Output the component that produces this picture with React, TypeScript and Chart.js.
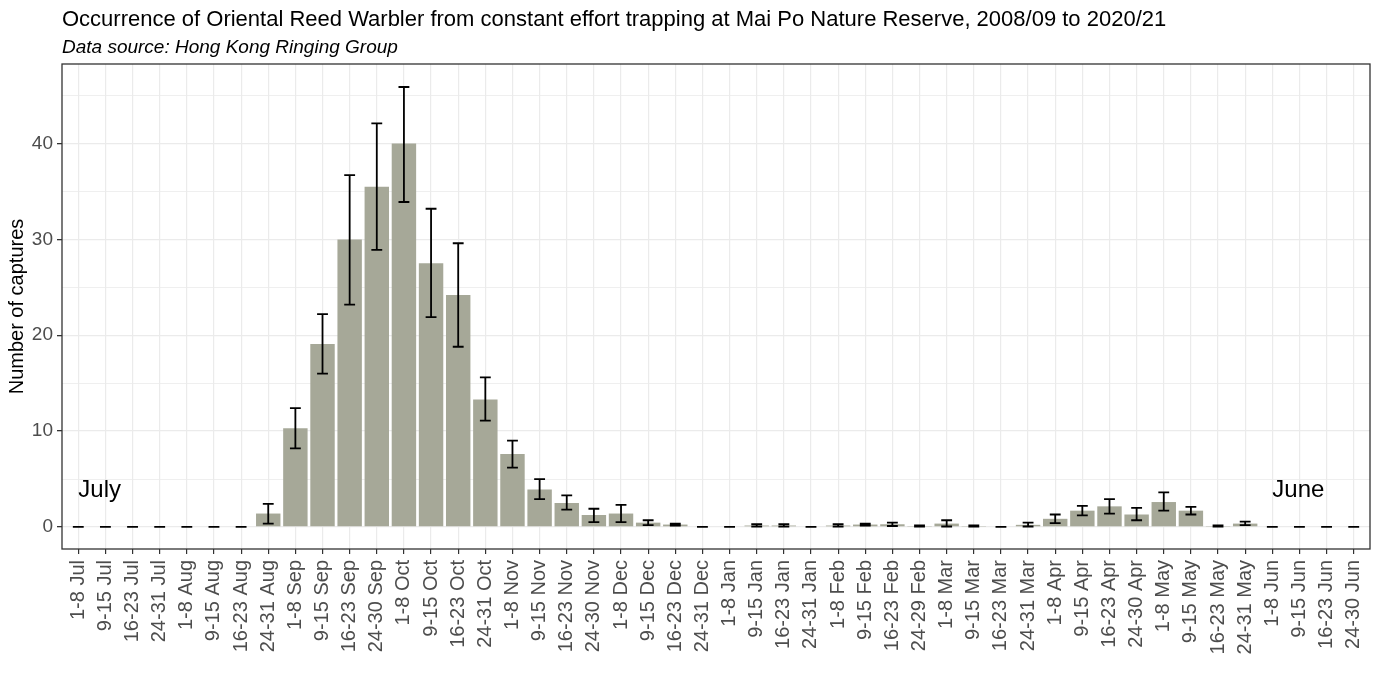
import React, { useEffect, useRef } from "react";
import { Chart, registerables } from "chart.js";

Chart.register(...registerables);

const categories = [
  "1-8 Jul", "9-15 Jul", "16-23 Jul", "24-31 Jul",
  "1-8 Aug", "9-15 Aug", "16-23 Aug", "24-31 Aug",
  "1-8 Sep", "9-15 Sep", "16-23 Sep", "24-30 Sep",
  "1-8 Oct", "9-15 Oct", "16-23 Oct", "24-31 Oct",
  "1-8 Nov", "9-15 Nov", "16-23 Nov", "24-30 Nov",
  "1-8 Dec", "9-15 Dec", "16-23 Dec", "24-31 Dec",
  "1-8 Jan", "9-15 Jan", "16-23 Jan", "24-31 Jan",
  "1-8 Feb", "9-15 Feb", "16-23 Feb", "24-29 Feb",
  "1-8 Mar", "9-15 Mar", "16-23 Mar", "24-31 Mar",
  "1-8 Apr", "9-15 Apr", "16-23 Apr", "24-30 Apr",
  "1-8 May", "9-15 May", "16-23 May", "24-31 May",
  "1-8 Jun", "9-15 Jun", "16-23 Jun", "24-30 Jun",
];

const meanCaptures = [
  0, 0, 0, 0, 0, 0, 0, 1.4,
  10.3, 19.1, 30.0, 35.5, 40.0, 27.5, 24.2, 13.3,
  7.6, 3.9, 2.5, 1.25, 1.4, 0.45, 0.25, 0,
  0, 0.15, 0.15, 0, 0.15, 0.25, 0.28, 0.1,
  0.35, 0.1, 0, 0.22, 0.85, 1.7, 2.15, 1.3,
  2.6, 1.7, 0.1, 0.35, 0, 0, 0, 0,
];

const lowerCaptures = [
  0, 0, 0, 0, 0, 0, 0, 0.35,
  8.2, 16.0, 23.2, 28.9, 33.9, 21.9, 18.8, 11.1,
  6.2, 2.9, 1.8, 0.5, 0.5, 0.2, 0.15, 0,
  0, 0.05, 0.05, 0, 0.05, 0.15, 0.1, 0.05,
  0.05, 0.05, 0, 0.05, 0.4, 1.2, 1.4, 0.7,
  1.7, 1.3, 0.05, 0.2, 0, 0, 0, 0,
];

const upperCaptures = [
  0, 0, 0, 0, 0, 0, 0, 2.4,
  12.4, 22.2, 36.7, 42.1, 45.9, 33.2, 29.6, 15.6,
  9.0, 5.0, 3.3, 1.9, 2.3, 0.7, 0.35, 0,
  0, 0.3, 0.3, 0, 0.3, 0.35, 0.45, 0.15,
  0.7, 0.15, 0, 0.45, 1.3, 2.2, 2.9, 2.0,
  3.6, 2.1, 0.15, 0.55, 0, 0, 0, 0,
];

const yTicks = [0, 5, 10, 15, 20, 25, 30, 35, 40, 45];

const annotationTexts = ["July", "June"];
const annotationX = [0, 44];
const annotationY = [3.8, 3.8];

const titleText =
  "Occurrence of Oriental Reed Warbler from constant effort trapping at Mai Po Nature Reserve, 2008/09 to 2020/21";
const subtitleText = "Data source: Hong Kong Ringing Group";

const FONT = "'Liberation Sans', Arial, sans-serif";

const overlayPlugin = {
  id: "overlay",
  beforeDraw(chart: any) {
    const { ctx, width, height } = chart;
    ctx.save();
    ctx.fillStyle = "#ffffff";
    ctx.fillRect(0, 0, width, height);
    ctx.restore();
  },
  afterDatasetsDraw(chart: any) {
    const { ctx, chartArea, scales } = chart;
    const xs = scales.x;
    const ys = scales.y;
    const step = Math.abs(xs.getPixelForValue(1) - xs.getPixelForValue(0));
    const half = step * 0.2;
    ctx.save();
    ctx.strokeStyle = "#000000";
    ctx.lineWidth = 1.8;
    for (let i = 0; i < categories.length; i++) {
      const x = xs.getPixelForValue(i);
      const yl = ys.getPixelForValue(lowerCaptures[i]);
      const yu = ys.getPixelForValue(upperCaptures[i]);
      ctx.beginPath();
      ctx.moveTo(x, yl);
      ctx.lineTo(x, yu);
      ctx.moveTo(x - half, yl);
      ctx.lineTo(x + half, yl);
      ctx.moveTo(x - half, yu);
      ctx.lineTo(x + half, yu);
      ctx.stroke();
    }
    // annotations
    ctx.fillStyle = "#000000";
    ctx.font = `24px ${FONT}`;
    ctx.textAlign = "left";
    ctx.textBaseline = "middle";
    for (let i = 0; i < annotationTexts.length; i++) {
      ctx.fillText(
        annotationTexts[i],
        xs.getPixelForValue(annotationX[i]),
        ys.getPixelForValue(annotationY[i])
      );
    }
    // panel border
    ctx.strokeStyle = "#333333";
    ctx.lineWidth = 1.3;
    ctx.strokeRect(
      chartArea.left,
      chartArea.top,
      chartArea.right - chartArea.left,
      chartArea.bottom - chartArea.top
    );
    // titles
    ctx.textBaseline = "alphabetic";
    ctx.fillStyle = "#000000";
    ctx.font = `22px ${FONT}`;
    ctx.fillText(titleText, chartArea.left, 26);
    ctx.font = `italic 19px ${FONT}`;
    ctx.fillText(subtitleText, chartArea.left, 53);
    ctx.restore();
  },
};

export default function App() {
  const canvasRef = useRef<HTMLCanvasElement | null>(null);

  useEffect(() => {
    document.body.style.margin = "0";
    const canvas = canvasRef.current;
    if (!canvas) return;
    const chart = new Chart(canvas, {
      type: "bar",
      data: {
        datasets: [
          {
            data: meanCaptures.map((v, i) => ({ x: i, y: v })),
            backgroundColor: "#A6A898",
            borderWidth: 0,
            barPercentage: 0.9,
            categoryPercentage: 1,
          },
        ],
      },
      options: {
        animation: false,
        responsive: true,
        maintainAspectRatio: false,
        layout: { padding: { top: 64, right: 9, left: 0, bottom: 0 } },
        plugins: {
          legend: { display: false },
          tooltip: { enabled: false },
          title: { display: false },
        },
        scales: {
          x: {
            type: "linear",
            min: -0.6,
            max: categories.length - 1 + 0.6,
            offset: false,
            afterBuildTicks: (scale: any) => {
              scale.ticks = categories.map((_, i) => ({ value: i }));
            },
            afterFit: (scale: any) => {
              scale.height = 140;
              scale.paddingLeft = 0;
              scale.paddingRight = 0;
            },
            ticks: {
              autoSkip: false,
              minRotation: 90,
              maxRotation: 90,
              padding: 6,
              color: "#4D4D4D",
              font: { family: FONT, size: 20 },
              callback: (v: any) => categories[Math.round(Number(v))] ?? "",
            },
            grid: {
              offset: false,
              color: "#EBEBEB",
              lineWidth: 1.2,
              tickColor: "#333333",
              tickLength: 5,
              drawTicks: true,
            },
            border: { display: false },
          },
          y: {
            type: "linear",
            min: -2.3,
            max: 48.3,
            afterBuildTicks: (scale: any) => {
              scale.ticks = yTicks.map((v) => ({ value: v }));
            },
            afterFit: (scale: any) => {
              scale.width = 62;
              scale.paddingTop = 0;
              scale.paddingBottom = 0;
            },
            ticks: {
              padding: 4,
              color: "#4D4D4D",
              font: { family: FONT, size: 19 },
              callback: (v: any) => (Number(v) % 10 === 0 ? String(v) : ""),
            },
            grid: {
              color: "#EBEBEB",
              lineWidth: (ctx: any) =>
                ctx.tick && ctx.tick.value % 10 === 0 ? 1.3 : 0.8,
              tickColor: (ctx: any) =>
                ctx.tick && ctx.tick.value % 10 === 0 ? "#333333" : "rgba(0,0,0,0)",
              tickLength: 5,
            },
            border: { display: false },
            title: {
              display: true,
              text: "Number of captures",
              color: "#000000",
              font: { family: FONT, size: 20 },
              padding: { top: 5, bottom: 0 },
            },
          },
        },
      },
      plugins: [overlayPlugin],
    } as any);
    return () => chart.destroy();
  }, []);

  return (
    <div
      style={{
        position: "fixed",
        left: 0,
        top: 0,
        width: 1379,
        height: 689,
        background: "#ffffff",
      }}
    >
      <canvas ref={canvasRef} />
    </div>
  );
}
